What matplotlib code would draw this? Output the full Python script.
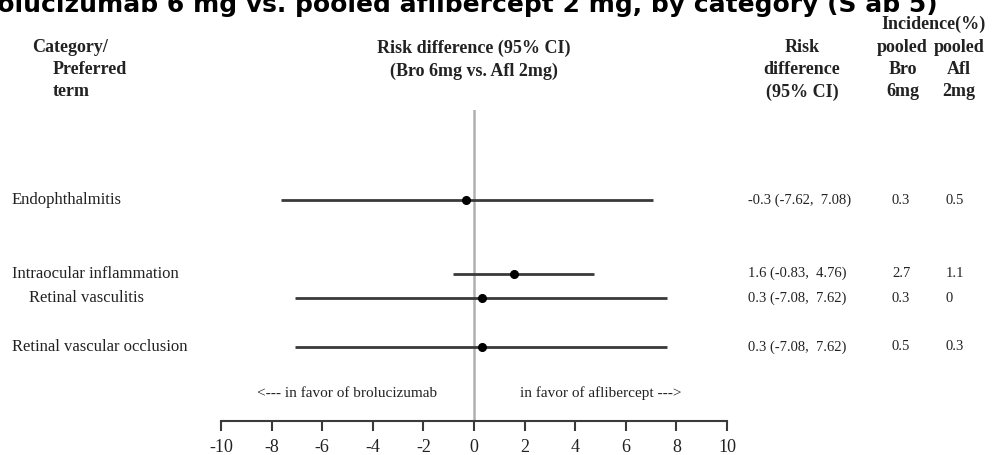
import matplotlib
matplotlib.use("Agg")
import matplotlib.pyplot as plt
import matplotlib.transforms as mtransforms

# data
terms = ["Endophthalmitis", "Intraocular inflammation", "Retinal vasculitis",
         "Retinal vascular occlusion"]
indent = [False, False, True, False]
estimate = [-0.3, 1.6, 0.3, 0.3]
ci_low = [-7.62, -0.83, -7.08, -7.08]
ci_high = [7.08, 4.76, 7.62, 7.62]
inc_bro = ["0.3", "2.7", "0.3", "0.5"]
inc_afl = ["0.5", "1.1", "0", "0.3"]
xticks = [-10, -8, -6, -4, -2, 0, 2, 4, 6, 8, 10]

row_pos = [1, 4, 5, 7]

W, H = 992, 455
serif = "Liberation Serif"
txt = "#222222"

fig = plt.figure(figsize=(W / 100, H / 100), dpi=100)

def fx(x):
    return x / W

def fy(y):
    return 1 - y / H

# forest axis: -10 at px 221, 10 at px 727; top px 110, axis line px 421
ax = fig.add_axes([fx(221), fy(421), fx(727) - fx(221), (421 - 110) / H])
ax.set_xlim(-10, 10)
ax.set_ylim(7 + (421 - 347) / 24.5, 1 - (200 - 110) / 24.5)

ax.axvline(0, color="#b0b0b0", lw=1.8, zorder=1)
for i in range(len(terms)):
    ax.plot([ci_low[i], ci_high[i]], [row_pos[i], row_pos[i]], color="#3a3a3a",
            lw=2, solid_capstyle="butt", zorder=2)
    ax.plot(estimate[i], row_pos[i], "o", color="black", ms=5.5, zorder=3)

for s in ["top", "right", "left"]:
    ax.spines[s].set_visible(False)
ax.spines["bottom"].set_color("#3a3a3a")
ax.spines["bottom"].set_linewidth(1.5)
ax.spines["bottom"].set_bounds(-10, 10)
ax.set_yticks([])
ax.set_xticks(xticks)
ax.set_xticklabels([str(t) for t in xticks], fontfamily=serif, fontsize=13, color=txt)
ax.tick_params(axis="x", direction="out", length=7, width=1.5, color="#3a3a3a", pad=6)
ax.patch.set_alpha(0)

ax.text(-5, 8.9, "<--- in favor of brolucizumab", ha="center", va="center",
        fontfamily=serif, fontsize=11, color=txt)
ax.text(5, 8.9, "in favor of aflibercept --->", ha="center", va="center",
        fontfamily=serif, fontsize=11, color=txt)

# row labels and table, aligned to rows
tr = mtransforms.blended_transform_factory(fig.transFigure, ax.transData)
for i in range(len(terms)):
    y = row_pos[i]
    x0 = 29 if indent[i] else 12
    fig.text(fx(x0), y, terms[i], transform=tr, ha="left", va="center",
             fontfamily=serif, fontsize=12, color=txt)
    rd = "%.1f (%.2f,  %.2f)" % (estimate[i], ci_low[i], ci_high[i])
    fig.text(fx(748), y, rd, transform=tr, ha="left", va="center",
             fontfamily=serif, fontsize=10.5, color=txt)
    fig.text(fx(892), y, inc_bro[i], transform=tr, ha="left", va="center",
             fontfamily=serif, fontsize=10.5, color=txt)
    fig.text(fx(946), y, inc_afl[i], transform=tr, ha="left", va="center",
             fontfamily=serif, fontsize=10.5, color=txt)

# headers
hdr = dict(fontfamily=serif, fontsize=13, fontweight="bold", color=txt, va="center")
fig.text(fx(32), fy(47), "Category/", ha="left", **hdr)
fig.text(fx(53), fy(69), "Preferred", ha="left", **hdr)
fig.text(fx(53), fy(92), "term", ha="left", **hdr)
fig.text(fx(474), fy(48), "Risk difference (95% CI)", ha="center", **hdr)
fig.text(fx(474), fy(71), "(Bro 6mg vs. Afl 2mg)", ha="center", **hdr)
fig.text(fx(802), fy(47), "Risk", ha="center", **hdr)
fig.text(fx(802), fy(69), "difference", ha="center", **hdr)
fig.text(fx(802), fy(92), "(95% CI)", ha="center", **hdr)
fig.text(fx(934), fy(24), "Incidence(%)", ha="center", **hdr)
fig.text(fx(902), fy(47), "pooled", ha="center", **hdr)
fig.text(fx(959), fy(47), "pooled", ha="center", **hdr)
fig.text(fx(903), fy(69), "Bro", ha="center", **hdr)
fig.text(fx(959), fy(69), "Afl", ha="center", **hdr)
fig.text(fx(903), fy(92), "6mg", ha="center", **hdr)
fig.text(fx(959), fy(92), "2mg", ha="center", **hdr)

# title, cut off at the top and left edges as in the source image
fig.text(fx(938), fy(12), "brolucizumab 6 mg vs. pooled aflibercept 2 mg, by category (S ab 5)",
         ha="right", va="baseline", fontfamily="DejaVu Sans", fontweight="bold",
         fontsize=18, color="black")

fig.savefig("out.png", dpi=100)
